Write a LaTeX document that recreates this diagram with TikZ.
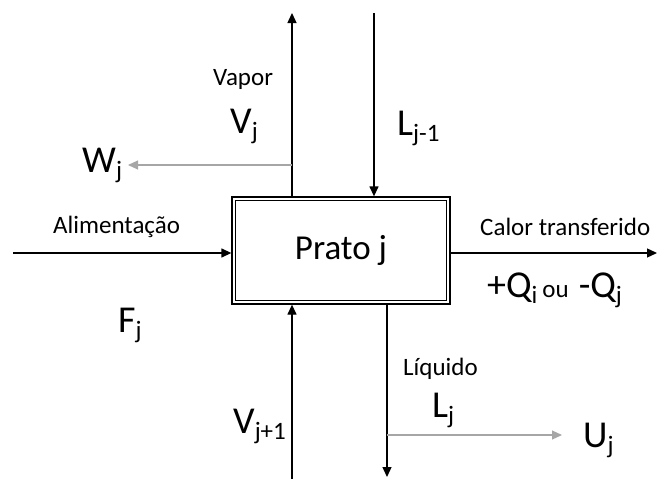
\documentclass[tikz,border=0pt]{standalone}
\usepackage{fontspec}
\setmainfont{Carlito}
\usetikzlibrary{arrows.meta}
\newcommand\bigsz{\fontsize{38}{40}\selectfont}
\newcommand\smallsz{\fontsize{25}{27}\selectfont}
\newcommand\subsc[1]{\raisebox{-6pt}{\fontsize{25}{27}\selectfont #1}}
\definecolor{sidegray}{HTML}{A6A6A6}
\tikzset{
  flow/.style={line width=1.3pt, draw=black, -{Triangle[length=10pt,width=9pt]}},
  side/.style={line width=1.1pt, draw=sidegray, -{Triangle[length=10pt,width=9pt]}},
  lbl/.style={anchor=base west, inner sep=0pt, font=\smallsz},
  sym/.style={anchor=base west, inner sep=0pt, font=\bigsz},
}
\begin{document}
\begin{tikzpicture}[x=1pt,y=-1pt]
\useasboundingbox (0,0) rectangle (657,479);
% plate
\node[draw, line width=1.3pt, minimum width=218pt, minimum height=107pt, inner sep=0pt,
      font=\fontsize{35}{37}\selectfont] (plate) at (341,250.5) {\raisebox{-3pt}{Prato j}};
\draw[line width=1.1pt] ([shift={(4pt,-4pt)}]plate.north west) rectangle ([shift={(-4pt,4pt)}]plate.south east);
% coordinates
\coordinate (vtop) at (292,13);
\coordinate (ltop) at (374,13);
\coordinate (fin) at (13,253);
\coordinate (hout) at (657,253);
\coordinate (vbot) at (292,479);
\coordinate (lbot) at (387,477);
\coordinate (wsplit) at (292,165);
\coordinate (wend) at (128,165);
\coordinate (usplit) at (387,435);
\coordinate (uend) at (562,435);
% connectors
\draw[flow] (plate.north -| vtop) -- (vtop);
\draw[flow] (ltop) -- (plate.north -| ltop);
\draw[flow] (fin) -- (plate.west |- fin);
\draw[flow] (plate.east |- hout) -- (hout);
\draw[flow] (vbot) -- (plate.south -| vbot);
\draw[flow] (plate.south -| lbot) -- (lbot);
\draw[side] (wsplit) -- (wend);
\draw[side] (usplit) -- (uend);
% labels
\node[lbl] (tvapor) at (213,85) {Vapor};
\node[sym] (tvj) at (230,133) {V\subsc{j}};
\node[sym] (twj) at (82,172) {W\subsc{j}};
\node[sym] (tlj1) at (397,135) {L\subsc{j-1}};
\node[lbl] (tfeed) at (53,233) {Alimentação};
\node[lbl] (theat) at (480,235) {Calor transferido};
\node[sym] (tq) at (487,297) {+Q\subsc{i}\hspace{5pt}{\smallsz ou}\hspace{10pt}-Q\subsc{j}};
\node[sym] (tfj) at (118,332) {F\subsc{j}};
\node[lbl] (tliq) at (403,375) {Líquido};
\node[sym] (tlj) at (432,417) {L\subsc{j}};
\node[sym] (tuj) at (583,447) {U\subsc{j}};
\node[sym] (tvj1) at (233,433) {V\subsc{j+1}};
\end{tikzpicture}
\end{document}
